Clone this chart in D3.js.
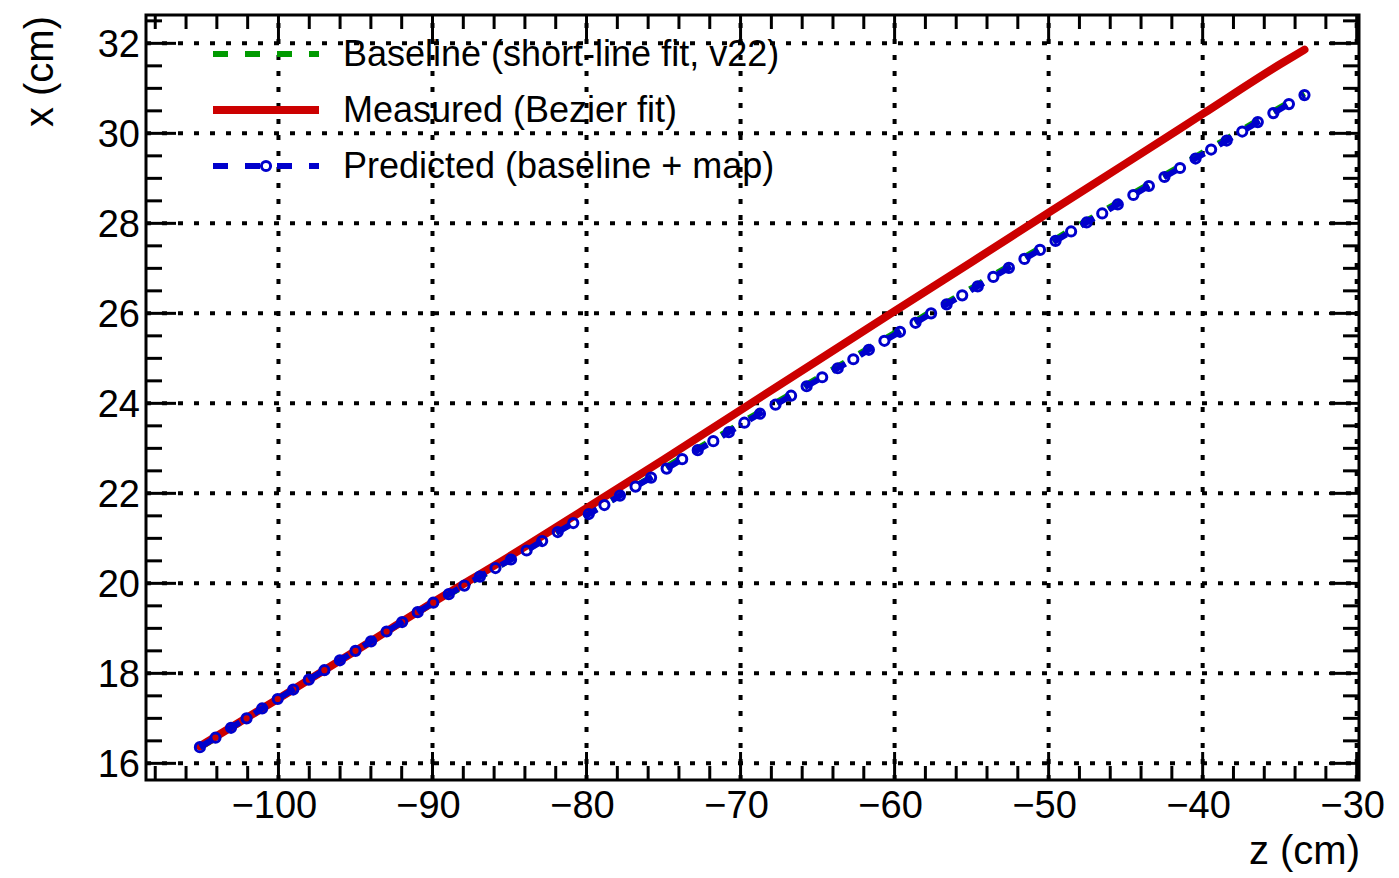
<!DOCTYPE html>
<html>
<head>
<meta charset="utf-8">
<script src="https://cdn.jsdelivr.net/npm/d3@7"></script>
<style>
  body { margin: 0; background: #fff; }
  text { font-family: "Liberation Sans", Arial, Helvetica, sans-serif; }
</style>
</head>
<body>
<svg id="chart" width="1399" height="878"></svg>
<script>
// z positions of the track points (cm)
var zPoints = [
  -105.10, -104.09, -103.08, -102.07, -101.06, -100.05, -99.04, -98.03, -97.02, -96.01,
  -95.00, -93.99, -92.98, -91.97, -90.96, -89.95, -88.94, -87.93, -86.92, -85.91,
  -84.90, -83.89, -82.88, -81.87, -80.86, -79.85, -78.84, -77.83, -76.82, -75.81,
  -74.80, -73.79, -72.78, -71.77, -70.76, -69.75, -68.74, -67.73, -66.72, -65.71,
  -64.70, -63.69, -62.68, -61.67, -60.66, -59.65, -58.64, -57.63, -56.62, -55.61,
  -54.60, -53.59, -52.58, -51.57, -50.56, -49.55, -48.54, -47.53, -46.52, -45.51,
  -44.50, -43.49, -42.48, -41.47, -40.46, -39.45, -38.44, -37.43, -36.42, -35.41,
  -34.40, -33.39
];

// Baseline (short-line fit, v22)
var xBaseline = [
  16.35, 16.56, 16.78, 16.99, 17.21, 17.42, 17.63, 17.85, 18.06, 18.28,
  18.49, 18.70, 18.92, 19.13, 19.35, 19.56, 19.75, 19.94, 20.14, 20.33,
  20.54, 20.74, 20.95, 21.15, 21.35, 21.55, 21.75, 21.96, 22.16, 22.36,
  22.59, 22.80, 23.00, 23.20, 23.40, 23.61, 23.81, 24.01, 24.21, 24.42,
  24.62, 24.82, 25.02, 25.23, 25.43, 25.63, 25.83, 26.04, 26.24, 26.44,
  26.64, 26.85, 27.05, 27.25, 27.45, 27.65, 27.86, 28.06, 28.26, 28.46,
  28.67, 28.87, 29.07, 29.27, 29.48, 29.68, 29.88, 30.08, 30.29, 30.49,
  30.69, 30.89
];

// Predicted (baseline + map)
var xPredicted = [
  16.36, 16.57, 16.79, 17.00, 17.22, 17.43, 17.64, 17.86, 18.07, 18.29,
  18.50, 18.71, 18.93, 19.14, 19.36, 19.57, 19.76, 19.95, 20.15, 20.34,
  20.53, 20.73, 20.94, 21.14, 21.34, 21.54, 21.74, 21.95, 22.15, 22.35,
  22.55, 22.76, 22.96, 23.16, 23.36, 23.57, 23.77, 23.97, 24.17, 24.38,
  24.58, 24.78, 24.98, 25.19, 25.39, 25.59, 25.79, 26.00, 26.20, 26.40,
  26.60, 26.81, 27.01, 27.21, 27.41, 27.61, 27.82, 28.02, 28.22, 28.42,
  28.63, 28.83, 29.03, 29.23, 29.44, 29.64, 29.84, 30.04, 30.25, 30.45,
  30.65, 30.85
];

// Measured (Bezier fit)
var zMeasured = [-105.1, -100, -95, -90, -85, -80, -75, -70, -65, -60, -55, -50, -45, -40, -35, -33.39];
var xMeasured = [16.38, 17.44, 18.50, 19.57, 20.60, 21.67, 22.75, 23.85, 24.95, 26.05, 27.14, 28.24, 29.33, 30.43, 31.53, 31.86];

var xTickLabels = [-100, -90, -80, -70, -60, -50, -40, -30];
var yTickLabels = [16, 18, 20, 22, 24, 26, 28, 30, 32];
var legendLabels = ["Baseline (short-line fit, v22)", "Measured (Bezier fit)", "Predicted (baseline + map)"];

// frame edges (window.top is read-only, so use own names)
var fL = 146, fR = 1359, fT = 15, fB = 780;

var x = d3.scaleLinear().domain([-108.6, -29.85]).range([fL, fR]);
var y = d3.scaleLinear().domain([15.63, 32.63]).range([fB, fT]);

var svg = d3.select("#chart");
var fmt = d3.format("d");

var green = "#009a00", red = "#cc0000", blue = "#0000cc";

// grid (dotted, at major ticks)
var grid = svg.append("g")
  .attr("stroke", "#000")
  .attr("stroke-width", 4)
  .attr("stroke-dasharray", "5,11");

grid.selectAll(".gx")
  .data(xTickLabels.filter(function(d) { return x(d) < fR - 2; }))
  .enter().append("line")
  .attr("x1", function(d) { return x(d); })
  .attr("x2", function(d) { return x(d); })
  .attr("y1", fB)
  .attr("y2", fT);

grid.selectAll(".gy")
  .data(yTickLabels)
  .enter().append("line")
  .attr("x1", fL)
  .attr("x2", fR)
  .attr("y1", function(d) { return y(d); })
  .attr("y2", function(d) { return y(d); });

// series
var predicted = zPoints.map(function(z, i) { return [z, xPredicted[i]]; });
var baseline = zPoints.map(function(z, i) { return [z, xBaseline[i]]; });
var measured = zMeasured.map(function(z, i) { return [z, xMeasured[i]]; });

var line = d3.line()
  .x(function(d) { return x(d[0]); })
  .y(function(d) { return y(d[1]); });

svg.append("path")
  .attr("d", line(baseline))
  .attr("fill", "none")
  .attr("stroke", green)
  .attr("stroke-width", 6)
  .attr("stroke-dasharray", "15,17");

svg.append("path")
  .attr("d", line.curve(d3.curveMonotoneX)(measured))
  .attr("fill", "none")
  .attr("stroke", red)
  .attr("stroke-width", 8)
  .attr("stroke-linecap", "round");

line.curve(d3.curveLinear);

svg.append("path")
  .attr("d", line(predicted))
  .attr("fill", "none")
  .attr("stroke", blue)
  .attr("stroke-width", 6)
  .attr("stroke-dasharray", "15,17");

svg.append("g").selectAll("circle")
  .data(predicted)
  .enter().append("circle")
  .attr("cx", function(d) { return x(d[0]); })
  .attr("cy", function(d) { return y(d[1]); })
  .attr("r", 4.6)
  .attr("fill", "none")
  .attr("stroke", blue)
  .attr("stroke-width", 3);

// ticks on all four sides, pointing inward
var xMinor = d3.range(-108, -29, 2);
var yMinor = d3.range(16, 32.6, 0.5);
var ticks = svg.append("g").attr("stroke", "#000").attr("stroke-width", 3);

xMinor.forEach(function(v) {
  var len = (v % 10 === 0) ? 28 : 14;
  ticks.append("line").attr("x1", x(v)).attr("x2", x(v)).attr("y1", fB).attr("y2", fB - len);
  ticks.append("line").attr("x1", x(v)).attr("x2", x(v)).attr("y1", fT).attr("y2", fT + len);
});
yMinor.forEach(function(v) {
  var len = (v % 2 === 0) ? 30 : 16;
  ticks.append("line").attr("x1", fL).attr("x2", fL + len).attr("y1", y(v)).attr("y2", y(v));
  ticks.append("line").attr("x1", fR).attr("x2", fR - len).attr("y1", y(v)).attr("y2", y(v));
});

// frame
svg.append("rect")
  .attr("x", fL).attr("y", fT)
  .attr("width", fR - fL).attr("height", fB - fT)
  .attr("fill", "none").attr("stroke", "#000").attr("stroke-width", 3);

// tick labels
svg.append("g").selectAll("text")
  .data(xTickLabels)
  .enter().append("text")
  .attr("x", function(d) { return x(d) - 4; })
  .attr("y", 818)
  .attr("text-anchor", "middle")
  .attr("font-size", 38)
  .text(function(d) { return fmt(d); });

svg.append("g").selectAll("text")
  .data(yTickLabels)
  .enter().append("text")
  .attr("x", 140)
  .attr("y", function(d) { return y(d) + 14; })
  .attr("text-anchor", "end")
  .attr("font-size", 38)
  .text(function(d) { return fmt(d); });

// axis titles
svg.append("text")
  .attr("x", 1360).attr("y", 864)
  .attr("text-anchor", "end")
  .attr("font-size", 40)
  .text("z (cm)");

svg.append("text")
  .attr("transform", "translate(53,16)rotate(-90)")
  .attr("text-anchor", "end")
  .attr("font-size", 40)
  .text("x (cm)");

// legend
var legendY = [54, 110, 166];
var legendStyle = [
  { color: green, width: 6, dash: "15,17", marker: false },
  { color: red, width: 8, dash: null, marker: false },
  { color: blue, width: 6, dash: "15,17", marker: true }
];
var legend = svg.append("g");
legendLabels.forEach(function(label, i) {
  var s = legendStyle[i];
  legend.append("line")
    .attr("x1", 213).attr("x2", 319)
    .attr("y1", legendY[i]).attr("y2", legendY[i])
    .attr("stroke", s.color)
    .attr("stroke-width", s.width)
    .attr("stroke-dasharray", s.dash);
  if (s.marker) {
    legend.append("circle")
      .attr("cx", 266).attr("cy", legendY[i])
      .attr("r", 4.6)
      .attr("fill", "#fff")
      .attr("stroke", s.color)
      .attr("stroke-width", 3);
  }
  legend.append("text")
    .attr("x", 343)
    .attr("y", legendY[i] + 12)
    .attr("font-size", 36)
    .text(label);
});
</script>
</body>
</html>
